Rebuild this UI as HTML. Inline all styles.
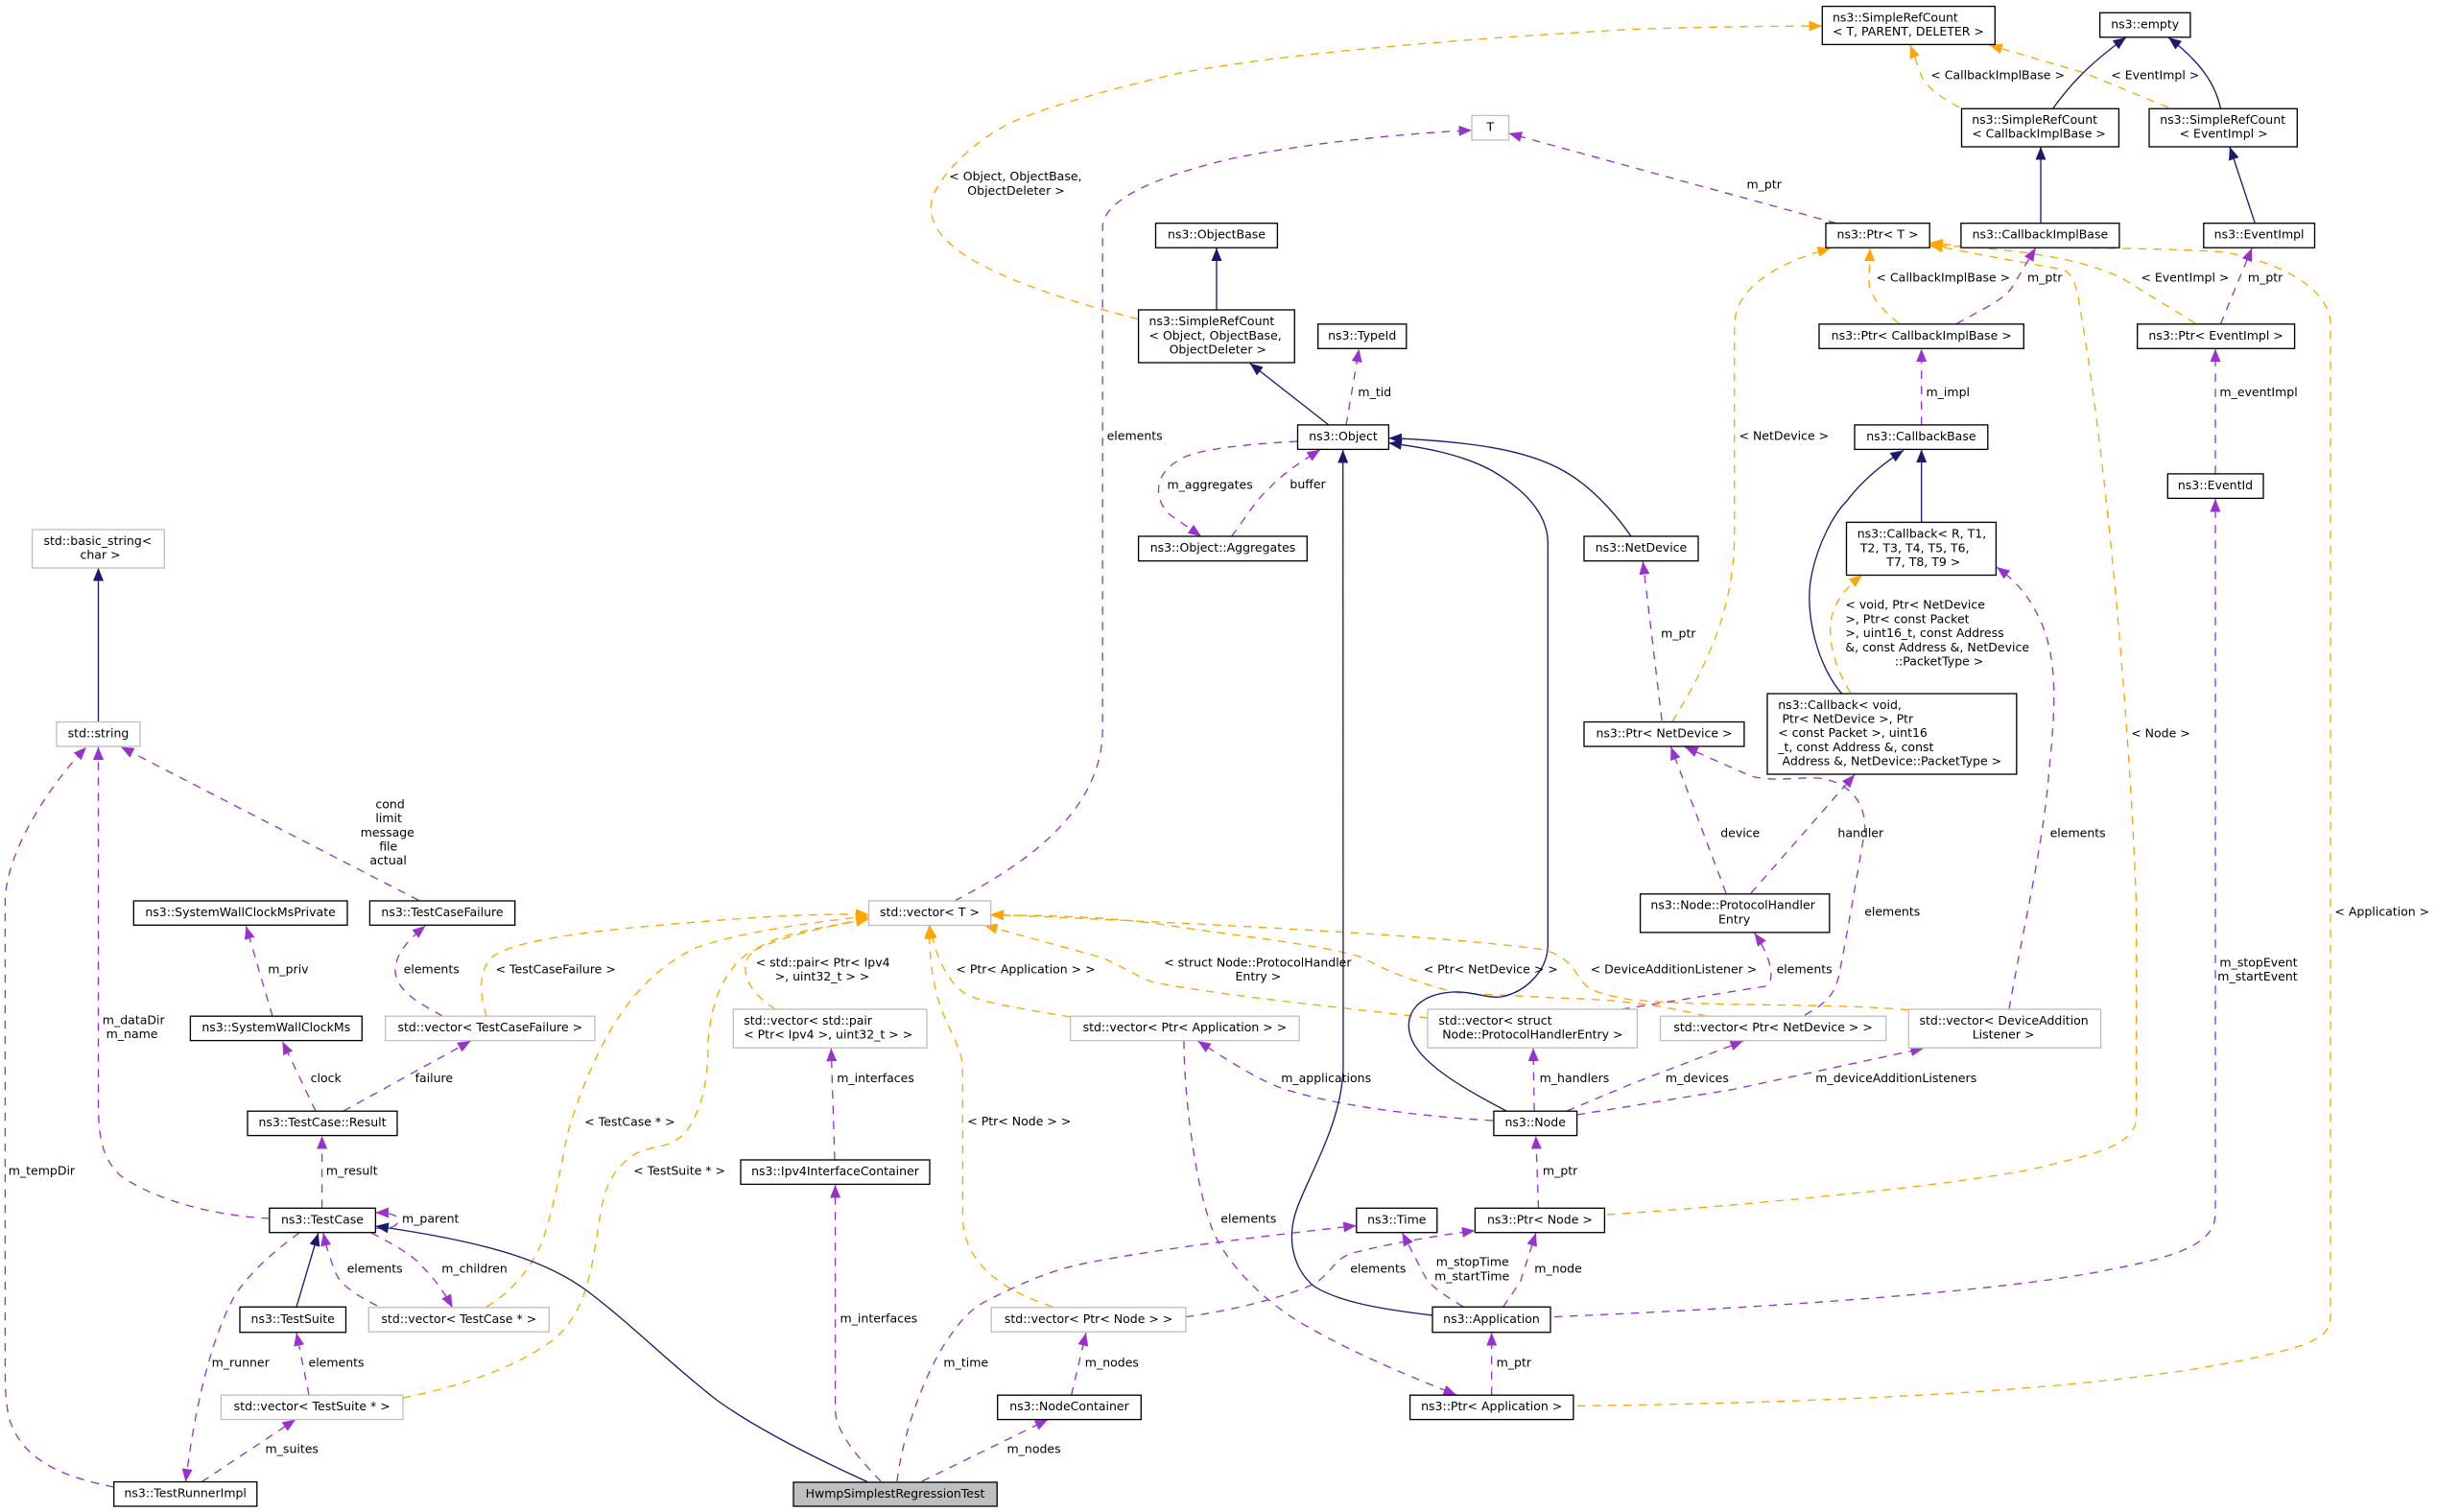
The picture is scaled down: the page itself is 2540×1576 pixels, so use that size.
<!DOCTYPE html>
<html><head><meta charset="utf-8"><title>HwmpSimplestRegressionTest</title>
<style>
html,body{margin:0;padding:0;background:#fff}
svg{display:block}
text{font-family:"DejaVu Sans","Liberation Sans",sans-serif;font-size:12.5px;fill:#000}
.m{text-anchor:middle}
.n{fill:#fff;stroke:#000;stroke-width:1.33}
.g{fill:#fff;stroke:#bfbfbf;stroke-width:1.33}
.h{fill:#bfbfbf;stroke:#000;stroke-width:1.33}
path{fill:none;stroke-width:1.33}
.b{stroke:#191970;marker-end:url(#ab)}
.p{stroke:#9932CC;stroke-dasharray:8.5 7.5;marker-end:url(#ap)}
.o{stroke:#FFA500;stroke-dasharray:8.5 7.5;marker-end:url(#ao)}
</style></head><body>
<svg xmlns="http://www.w3.org/2000/svg" width="2540" height="1576" viewBox="0 0 2540 1576">
<defs>
<marker id="ab" markerUnits="userSpaceOnUse" markerWidth="14" markerHeight="12" refX="13.5" refY="6" orient="auto"><polygon points="0,0.5 13.5,6 0,11.5" fill="#191970"/></marker>
<marker id="ap" markerUnits="userSpaceOnUse" markerWidth="14" markerHeight="12" refX="13.5" refY="6" orient="auto"><polygon points="0,0.5 13.5,6 0,11.5" fill="#9932CC"/></marker>
<marker id="ao" markerUnits="userSpaceOnUse" markerWidth="14" markerHeight="12" refX="13.5" refY="6" orient="auto"><polygon points="0,0.5 13.5,6 0,11.5" fill="#FFA500"/></marker>
</defs>

<!-- orange edges -->
<path class="o" d="M1186,332.6 C1130,318 1060,298 1012,270 C980,250 965,230 972,205 C985,175 1020,143 1060,125 C1110,105 1170,90 1230,76 C1340,56 1500,42 1700,30.6 C1770,28 1830,27.5 1899,27"/>
<path class="o" d="M2042,112 C2020,100 2008,90 2003,80 L1991,47"/>
<path class="o" d="M2260,112 L2171,75.5 L2073.4,47"/>
<path class="o" d="M1979,337 C1965,325 1950,312 1948,295 L1949,258.7"/>
<path class="o" d="M2288,337 L2215,292 C2190,278 2150,268 2100,262 L2011.2,253"/>
<path class="o" d="M1743,752 C1775,700 1807,640 1807.7,560 L1807.7,340 C1808,300 1850,275 1908,258.7"/>
<path class="o" d="M1675,1266 C1800,1258 2050,1235 2130,1216 C2180,1203 2226,1195 2226.6,1165 L2226.6,945 C2222,800 2200,500 2166,310 C2163,295 2160,285 2150,281 C2100,272 2060,265 2011.2,255"/>
<path class="o" d="M1644,1465.4 C1900,1462 2250,1450 2400,1402 C2425,1392 2429,1385 2429,1370 L2429,335 C2425,300 2380,275 2320,263 C2270,258 2100,258 2011.2,256.5"/>
<path class="o" d="M1928.7,722 C1915,700 1906,675 1908,650 C1910,630 1922,614 1941,599.5"/>
<path class="o" d="M507,1059 C500,1035 498,1015 512,998 C530,985 570,975 680,965 C760,958 830,952 905.5,953"/>
<path class="o" d="M507,1362 C525,1352 550,1330 565,1295 C580,1250 585,1210 592,1180 C605,1135 625,1090 645,1060 C665,1030 690,1005 725,988 C770,972 840,962 905.5,955"/>
<path class="o" d="M420,1457 C480,1445 540,1425 580,1394 C610,1365 615,1330 622,1290 C628,1250 630,1225 660,1204 C680,1192 695,1200 715,1180 C735,1150 738,1120 738,1085 C742,1040 755,1015 775,997 C800,980 850,968 905.5,957"/>
<path class="o" d="M808,1052 C790,1040 775,1025 777,1005 C780,990 800,978 850,968 L905.5,958"/>
<path class="o" d="M1115.6,1060 C1070,1052 1020,1045 1005,1035 C990,1025 975,1000 969.3,965"/>
<path class="o" d="M1097,1362 C1060,1350 1005,1325 1003.4,1270 L1003.4,1110 C1000,1085 980,1060 975,1030 C970,1010 969,990 968.2,965"/>
<path class="o" d="M1488,1061 C1400,1050 1290,1040 1202,1024 C1180,1015 1165,1005 1148,998 L1026,964.5"/>
<path class="o" d="M1778,1059 C1740,1050 1700,1042 1620,1040 L1520,1035 C1480,1025 1450,1015 1420,998 C1380,985 1300,977 1200,962 C1140,955 1090,954 1032.7,954"/>
<path class="o" d="M1989,1052.6 C1900,1045 1790,1050 1700,1042 C1670,1037 1655,1032 1648,1022 C1640,1010 1635,998 1610,990 C1500,975 1300,965 1032.7,953"/>

<!-- purple edges -->
<path class="p" d="M1914,232.7 L1572.6,139"/>
<path class="p" d="M995,939 C1060,905 1149,850 1149.2,760 L1149.2,237 C1149,205 1220,180 1285,165 C1360,150 1450,140 1534,135.7"/>
<path class="p" d="M1403,443 L1416.5,363.8"/>
<path class="p" d="M1352,460 C1300,463 1240,468 1225,482 C1200,498 1205,525 1220,537 L1252,559"/>
<path class="p" d="M1283.7,559 C1300,537 1310,520 1322,510 C1335,495 1355,482 1376,468.7"/>
<path class="p" d="M2038.6,337.8 C2065,323 2090,312 2098,298 L2121.6,258.5"/>
<path class="p" d="M2314.4,337.8 L2347.1,258.7"/>
<path class="p" d="M2002.7,442.9 L2002.7,363.6"/>
<path class="p" d="M2309,493.9 L2309,363.6"/>
<path class="p" d="M1620,1372.5 C1800,1365 2050,1350 2180,1327 C2260,1312 2309,1300 2309,1265 L2309,520"/>
<path class="p" d="M2094,1052 C2110,960 2130,880 2136,800 C2142,740 2145,690 2128,650 C2115,620 2100,605 2081,591"/>
<path class="p" d="M1732.1,751 L1712.3,585.2"/>
<path class="p" d="M1799,931 L1741.5,778.5"/>
<path class="p" d="M1825,931 L1933,807.5"/>
<path class="p" d="M1881,1058 C1905,1045 1913,1035 1917,1015 C1925,975 1935,915 1943,870 C1947,840 1930,815 1895,811 C1870,810 1850,815 1825,809 L1756,778.5"/>
<path class="p" d="M1690,1052 L1840,1028 C1850,1025 1848,1000 1828.6,972.5"/>
<path class="p" d="M1599.2,1158 L1598,1092.5"/>
<path class="p" d="M1633,1158 L1700,1130 L1817,1085"/>
<path class="p" d="M1643.6,1162 L1807,1135.4 L2005,1092.7"/>
<path class="p" d="M1556,1168 C1500,1165 1400,1155 1338,1135 C1315,1127 1290,1112 1248.4,1085"/>
<path class="p" d="M1603.5,1259.3 L1600.8,1184"/>
<path class="p" d="M1234,1085 C1234,1140 1245,1230 1262,1277 C1275,1315 1320,1360 1365,1384 C1410,1410 1470,1435 1518,1454"/>
<path class="p" d="M1525,1362 C1505,1350 1490,1340 1485,1330 L1461.5,1285"/>
<path class="p" d="M1566.7,1362.3 L1584.6,1336 L1600.8,1285.2"/>
<path class="p" d="M1554.7,1454 L1554.7,1389"/>
<path class="p" d="M1236,1372.5 C1280,1367 1340,1352 1370,1338 C1390,1325 1390,1312 1410,1306 C1440,1298 1490,1289 1537.4,1282.6"/>
<path class="p" d="M1116.7,1454.2 L1131.9,1389.2"/>
<path class="p" d="M961,1544 L1092.3,1479.6"/>
<path class="p" d="M935,1544 C940,1500 960,1440 985,1400 C1000,1378 1010,1365 1030,1355 C1070,1335 1100,1322 1140,1315 C1220,1300 1320,1288 1413.8,1277.5"/>
<path class="p" d="M918,1544 C900,1525 871,1495 870.6,1470 L870.6,1235"/>
<path class="p" d="M870,1209 L866.3,1092.7"/>
<path class="p" d="M280.8,1270 C220,1267 160,1250 125,1225 C108,1208 102.5,1190 102.5,1150 L102.5,778.5"/>
<path class="p" d="M118.7,1550 C70,1540 25,1525 10,1480 C5,1460 5.4,1440 5.4,1420 L5.4,940 C5.4,890 50,820 90,778.7"/>
<path class="p" d="M436.4,938.4 L126,778.5"/>
<path class="p" d="M284,1059.2 L256.4,965.3"/>
<path class="p" d="M461,1059 C440,1047 415,1035 412,1014 C411,995 425,980 443.4,965"/>
<path class="p" d="M329,1158.2 L294.4,1085.6"/>
<path class="p" d="M357.8,1158.2 L490.6,1085"/>
<path class="p" d="M335.6,1259 L335.6,1184"/>
<path class="p" d="M391.4,1280 C405,1282 415,1278 415,1272 C415,1266 405,1264 391.4,1264"/>
<path class="p" d="M387,1285 C410,1297 430,1308 440,1320 C452,1332 462,1345 471.6,1363"/>
<path class="p" d="M393,1361 C375,1352 355,1340 350,1327 C345,1315 340,1300 337,1285"/>
<path class="p" d="M312,1285 C280,1308 258,1330 245,1350 C225,1385 205,1450 193.5,1544.6"/>
<path class="p" d="M322,1454.2 L309,1389.2"/>
<path class="p" d="M210.3,1544.6 L308,1479.6"/>

<!-- blue edges -->
<path class="b" d="M102.5,752.5 L102.5,592"/>
<path class="b" d="M1268,323 L1268,258.5"/>
<path class="b" d="M1385,443 L1302.7,378.6"/>
<path class="b" d="M1493,1371 C1460,1367 1400,1360 1370,1341 C1350,1325 1340,1295 1351,1262 C1362,1228 1400,1170 1400,1110 L1399.7,469"/>
<path class="b" d="M1570,1158 C1530,1137 1485,1112 1472,1085 C1460,1058 1478,1036 1514,1034 C1535,1033 1550,1041 1565,1039 C1590,1034 1613,1012 1613.3,985 L1613.3,566 C1613,530 1580,505 1554,490 C1520,472 1480,466 1447.4,461.7"/>
<path class="b" d="M1700,559 C1680,530 1655,505 1630,491 C1590,468 1530,460 1447.4,456.6"/>
<path class="b" d="M2139.8,113 C2155,92 2175,68 2216,39"/>
<path class="b" d="M2314.4,113 C2310,92 2298,68 2260,39"/>
<path class="b" d="M2127,232.7 L2127,153"/>
<path class="b" d="M2350.3,232.7 L2324,153"/>
<path class="b" d="M2002.7,544.4 L2002.7,468.6"/>
<path class="b" d="M1919.6,723 C1895,695 1880,640 1888,600 C1895,565 1912,535 1925,522 C1940,502 1960,485 1984,469.4"/>
<path class="b" d="M309,1362.3 L331.8,1285.2"/>
<path class="b" d="M904,1544.5 C850,1520 790,1490 748,1460 C700,1423 660,1382 612.6,1346 C575,1318 520,1296 391.4,1278"/>

<!-- nodes -->
<rect class="g" x="33.6" y="552" width="137.7" height="40"/>
<rect class="g" x="59" y="752.5" width="87" height="25.5"/>
<rect class="g" x="1534" y="120.4" width="38.6" height="25.6"/>
<rect class="n" x="1204.5" y="232.7" width="126.9" height="25.5"/>
<rect class="n" x="1186.6" y="323" width="162.7" height="55"/>
<rect class="n" x="1373.7" y="337.8" width="92.1" height="25.5"/>
<rect class="n" x="1352.5" y="442.9" width="94.9" height="25.5"/>
<rect class="n" x="1186.6" y="559" width="175.7" height="25.7"/>
<rect class="n" x="1651" y="559" width="119" height="25.7"/>
<rect class="n" x="1651" y="752.5" width="166.9" height="25.5"/>
<rect class="n" x="1899.3" y="6.6" width="180" height="39.8"/>
<rect class="n" x="2188.6" y="13.3" width="94.3" height="25.5"/>
<rect class="n" x="2044.5" y="113.3" width="163.9" height="39.7"/>
<rect class="n" x="2240" y="113.3" width="154.3" height="39.7"/>
<rect class="n" x="1903" y="232.7" width="108.2" height="25.5"/>
<rect class="n" x="2043.9" y="232.7" width="165" height="25.5"/>
<rect class="n" x="2296.8" y="232.7" width="115.7" height="25.5"/>
<rect class="n" x="1896" y="337.8" width="213.3" height="25.5"/>
<rect class="n" x="2227.7" y="337.8" width="163.9" height="25.5"/>
<rect class="n" x="1933" y="442.9" width="138.8" height="25.5"/>
<rect class="n" x="2259.3" y="493.9" width="99.7" height="25.5"/>
<rect class="n" x="1924.5" y="544.4" width="155.9" height="55.1"/>
<rect class="n" x="1842" y="723" width="259.8" height="84"/>
<rect class="n" x="139.3" y="939" width="222.7" height="25.3"/>
<rect class="n" x="385.4" y="939" width="151.3" height="25.3"/>
<rect class="n" x="198.4" y="1059.2" width="178.9" height="25.4"/>
<rect class="g" x="401.7" y="1059.2" width="218.3" height="25.4"/>
<rect class="n" x="258" y="1158.2" width="156" height="25.4"/>
<rect class="n" x="772" y="1209" width="197" height="25.4"/>
<rect class="n" x="280.8" y="1259.3" width="110.6" height="25.4"/>
<rect class="n" x="250" y="1362.3" width="110.5" height="26.4"/>
<rect class="g" x="384.3" y="1362.8" width="188.1" height="25.4"/>
<rect class="g" x="230.4" y="1454.2" width="189.6" height="25.4"/>
<rect class="n" x="118.7" y="1544.6" width="149.1" height="25.4"/>
<rect class="h" x="827" y="1545" width="212.2" height="25"/>
<rect class="g" x="764.3" y="1052" width="201.7" height="40.2"/>
<rect class="g" x="905.5" y="939" width="127.2" height="25.5"/>
<rect class="g" x="1115.6" y="1059.2" width="238.6" height="25.4"/>
<rect class="g" x="1488" y="1052" width="218.4" height="40.2"/>
<rect class="n" x="1556.9" y="1158.2" width="86.7" height="25.4"/>
<rect class="n" x="1413.8" y="1259.3" width="84" height="25.4"/>
<rect class="n" x="1537.4" y="1259.3" width="135" height="25.4"/>
<rect class="g" x="1033.2" y="1362.8" width="202.8" height="25.4"/>
<rect class="n" x="1493" y="1362.3" width="123" height="26.4"/>
<rect class="n" x="1039.7" y="1454.2" width="149.6" height="25.4"/>
<rect class="n" x="1469.6" y="1454.2" width="170.3" height="25.4"/>
<rect class="n" x="1709.6" y="931.8" width="197.2" height="40.1"/>
<rect class="g" x="1730.5" y="1059.2" width="235.2" height="25.4"/>
<rect class="g" x="1989.3" y="1052" width="200.3" height="40.2"/>

<!-- node labels -->
<text x="45.5" y="568">std::basic_string&lt;</text>
<text x="83.5" y="582.5">char &gt;</text>
<text class="m" x="102.5" y="768.5">std::string</text>
<text class="m" x="1553.3" y="136.4">T</text>
<text class="m" x="1268" y="248.7">ns3::ObjectBase</text>
<text x="1197.5" y="339.2">ns3::SimpleRefCount</text>
<text x="1197.5" y="353.9">&lt; Object, ObjectBase,</text>
<text x="1218.6" y="368.6">ObjectDeleter &gt;</text>
<text class="m" x="1419.7" y="353.8">ns3::TypeId</text>
<text class="m" x="1400" y="458.9">ns3::Object</text>
<text class="m" x="1274.5" y="575">ns3::Object::Aggregates</text>
<text class="m" x="1710.5" y="575">ns3::NetDevice</text>
<text class="m" x="1734.5" y="768.5">ns3::Ptr&lt; NetDevice &gt;</text>
<text x="1910" y="22.4">ns3::SimpleRefCount</text>
<text x="1910" y="37">&lt; T, PARENT, DELETER &gt;</text>
<text class="m" x="2235.7" y="29.3">ns3::empty</text>
<text x="2055.2" y="129">ns3::SimpleRefCount</text>
<text x="2055.2" y="143.7">&lt; CallbackImplBase &gt;</text>
<text x="2251.2" y="129">ns3::SimpleRefCount</text>
<text x="2271.6" y="143.7">&lt; EventImpl &gt;</text>
<text class="m" x="1957" y="248.7">ns3::Ptr&lt; T &gt;</text>
<text class="m" x="2126.4" y="248.7">ns3::CallbackImplBase</text>
<text class="m" x="2354.6" y="248.7">ns3::EventImpl</text>
<text class="m" x="2002.7" y="353.8">ns3::Ptr&lt; CallbackImplBase &gt;</text>
<text class="m" x="2309.6" y="353.8">ns3::Ptr&lt; EventImpl &gt;</text>
<text class="m" x="2002.4" y="458.9">ns3::CallbackBase</text>
<text class="m" x="2309" y="509.9">ns3::EventId</text>
<text x="1935.7" y="560.7">ns3::Callback&lt; R, T1,</text>
<text x="1938.9" y="575.4">T2, T3, T4, T5, T6,</text>
<text x="1966.2" y="590.1">T7, T8, T9 &gt;</text>
<text x="1853.2" y="738.8">ns3::Callback&lt; void,</text>
<text x="1857.5" y="753.5">Ptr&lt; NetDevice &gt;, Ptr</text>
<text x="1853.2" y="768.2">&lt; const Packet &gt;, uint16</text>
<text x="1853.2" y="782.9">_t, const Address &amp;, const</text>
<text x="1857.5" y="797.6">Address &amp;, NetDevice::PacketType &gt;</text>
<text class="m" x="250.6" y="955">ns3::SystemWallClockMsPrivate</text>
<text class="m" x="461" y="955">ns3::TestCaseFailure</text>
<text class="m" x="287.8" y="1075.2">ns3::SystemWallClockMs</text>
<text class="m" x="510.8" y="1075.2">std::vector&lt; TestCaseFailure &gt;</text>
<text class="m" x="336" y="1174.2">ns3::TestCase::Result</text>
<text class="m" x="870.5" y="1225">ns3::Ipv4InterfaceContainer</text>
<text class="m" x="336" y="1275.3">ns3::TestCase</text>
<text class="m" x="305.2" y="1378.8">ns3::TestSuite</text>
<text class="m" x="478.3" y="1378.8">std::vector&lt; TestCase * &gt;</text>
<text class="m" x="325.2" y="1470.2">std::vector&lt; TestSuite * &gt;</text>
<text class="m" x="193.2" y="1560.6">ns3::TestRunnerImpl</text>
<text class="m" x="933" y="1560.9">HwmpSimplestRegressionTest</text>
<text x="775.2" y="1068">std::vector&lt; std::pair</text>
<text x="775.2" y="1082.6">&lt; Ptr&lt; Ipv4 &gt;, uint32_t &gt; &gt;</text>
<text class="m" x="969" y="955">std::vector&lt; T &gt;</text>
<text class="m" x="1234.9" y="1075.2">std::vector&lt; Ptr&lt; Application &gt; &gt;</text>
<text x="1499.4" y="1068">std::vector&lt; struct</text>
<text x="1503.2" y="1082.6">Node::ProtocolHandlerEntry &gt;</text>
<text class="m" x="1600.2" y="1174.2">ns3::Node</text>
<text class="m" x="1455.8" y="1275.3">ns3::Time</text>
<text class="m" x="1604.9" y="1275.3">ns3::Ptr&lt; Node &gt;</text>
<text class="m" x="1134.6" y="1378.8">std::vector&lt; Ptr&lt; Node &gt; &gt;</text>
<text class="m" x="1554.5" y="1378.8">ns3::Application</text>
<text class="m" x="1114.5" y="1470.2">ns3::NodeContainer</text>
<text class="m" x="1554.7" y="1470.2">ns3::Ptr&lt; Application &gt;</text>
<text x="1720.4" y="947.7">ns3::Node::ProtocolHandler</text>
<text x="1791" y="962.4">Entry</text>
<text class="m" x="1848.1" y="1075.2">std::vector&lt; Ptr&lt; NetDevice &gt; &gt;</text>
<text x="2000.5" y="1068">std::vector&lt; DeviceAddition</text>
<text x="2055.7" y="1082.6">Listener &gt;</text>

<!-- edge labels -->
<text x="989.3" y="188">&lt; Object, ObjectBase,</text>
<text x="1008.3" y="203">ObjectDeleter &gt;</text>
<text x="1415.4" y="413">m_tid</text>
<text x="1153.6" y="458.6">elements</text>
<text x="1216.5" y="509.6">m_aggregates</text>
<text x="1344.4" y="509">buffer</text>
<text x="1820.5" y="196.3">m_ptr</text>
<text x="2012.3" y="82.6">&lt; CallbackImplBase &gt;</text>
<text x="2200.3" y="82.6">&lt; EventImpl &gt;</text>
<text x="1955.5" y="293.3">&lt; CallbackImplBase &gt;</text>
<text x="2113" y="293.3">m_ptr</text>
<text x="2231.4" y="293.3">&lt; EventImpl &gt;</text>
<text x="2342.9" y="293.3">m_ptr</text>
<text x="2007.5" y="413.2">m_impl</text>
<text x="2313.4" y="413.2">m_eventImpl</text>
<text x="1812.5" y="458.6">&lt; NetDevice &gt;</text>
<text x="1731.1" y="664.7">m_ptr</text>
<text x="1923.4" y="634.6">&lt; void, Ptr&lt; NetDevice</text>
<text x="1923.4" y="649.4">&gt;, Ptr&lt; const Packet</text>
<text x="1923.4" y="664">&gt;, uint16_t, const Address</text>
<text x="1923.4" y="678.8">&amp;, const Address &amp;, NetDevice</text>
<text x="1974.8" y="693.3">::PacketType &gt;</text>
<text x="2221.2" y="768.3">&lt; Node &gt;</text>
<text x="391.4" y="842.4">cond</text>
<text x="391.4" y="857.1">limit</text>
<text x="375.7" y="871.8">message</text>
<text x="395.2" y="886.5">file</text>
<text x="385.4" y="901.2">actual</text>
<text x="279.2" y="1014.5">m_priv</text>
<text x="420.7" y="1014.5">elements</text>
<text x="516.6" y="1014.5">&lt; TestCaseFailure &gt;</text>
<text x="106.8" y="1067.3">m_dataDir</text>
<text x="110.6" y="1082">m_name</text>
<text x="323.6" y="1128.2">clock</text>
<text x="432.6" y="1128.2">failure</text>
<text x="609.3" y="1173.4">&lt; TestCase * &gt;</text>
<text x="8.7" y="1224.7">m_tempDir</text>
<text x="339.9" y="1224.7">m_result</text>
<text x="660.3" y="1224.7">&lt; TestSuite * &gt;</text>
<text x="419" y="1274.4">m_parent</text>
<text x="361.6" y="1326.7">elements</text>
<text x="460.2" y="1326.7">m_children</text>
<text x="220.6" y="1424.7">m_runner</text>
<text x="321.5" y="1424.7">elements</text>
<text x="276.5" y="1514.6">m_suites</text>
<text x="787.7" y="1007.4">&lt; std::pair&lt; Ptr&lt; Ipv4</text>
<text x="807.7" y="1022">&gt;, uint32_t &gt; &gt;</text>
<text x="996.4" y="1014.5">&lt; Ptr&lt; Application &gt; &gt;</text>
<text x="1213.2" y="1007.4">&lt; struct Node::ProtocolHandler</text>
<text x="1287.5" y="1022">Entry &gt;</text>
<text x="1483.7" y="1014.5">&lt; Ptr&lt; NetDevice &gt; &gt;</text>
<text x="1657.7" y="1014.5">&lt; DeviceAdditionListener &gt;</text>
<text x="872.2" y="1128.2">m_interfaces</text>
<text x="1335.2" y="1128.2">m_applications</text>
<text x="1604.6" y="1128.2">m_handlers</text>
<text x="1008.3" y="1173">&lt; Ptr&lt; Node &gt; &gt;</text>
<text x="1607.9" y="1224.7">m_ptr</text>
<text x="1272.3" y="1274.4">elements</text>
<text x="1496.7" y="1319.5">m_stopTime</text>
<text x="1495.1" y="1334.3">m_startTime</text>
<text x="1407.3" y="1326.7">elements</text>
<text x="1599.2" y="1326.7">m_node</text>
<text x="875.5" y="1378.5">m_interfaces</text>
<text x="983.4" y="1424.7">m_time</text>
<text x="1130.8" y="1424.7">m_nodes</text>
<text x="1559.6" y="1424.7">m_ptr</text>
<text x="1049.5" y="1514.6">m_nodes</text>
<text x="1793.2" y="872.3">device</text>
<text x="1915.4" y="872.3">handler</text>
<text x="2136.6" y="872.3">elements</text>
<text x="1943.2" y="954.6">elements</text>
<text x="1851.6" y="1014.5">elements</text>
<text x="2313.4" y="1007.4">m_stopEvent</text>
<text x="2311.3" y="1022">m_startEvent</text>
<text x="2433.4" y="954.6">&lt; Application &gt;</text>
<text x="1735.9" y="1128.2">m_devices</text>
<text x="1892.3" y="1128.2">m_deviceAdditionListeners</text>
</svg>
</body></html>
